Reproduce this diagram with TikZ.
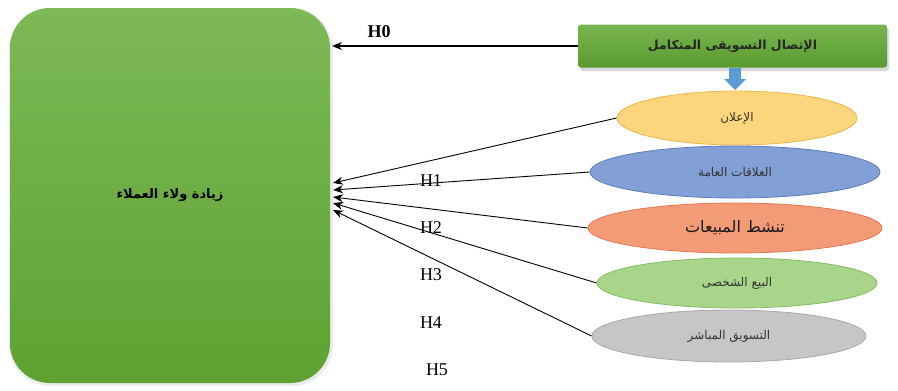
\documentclass[tikz,border=0pt]{standalone}
\usepackage{fontspec}
\setmainfont{Liberation Serif}
\newfontfamily\arabicfont[Script=Arabic]{DejaVu Sans}
\TeXXeTstate=1
\usetikzlibrary{shapes.geometric,arrows.meta,calc}

\definecolor{boxtop}{HTML}{7DB957}
\definecolor{boxbot}{HTML}{5EA232}
\definecolor{hdtop}{HTML}{79B54F}
\definecolor{hdbot}{HTML}{5A9B30}
\definecolor{adfill}{HTML}{FDD57C}
\definecolor{adline}{HTML}{E8B84A}
\definecolor{prfill}{HTML}{829FD6}
\definecolor{prline}{HTML}{5C7EC0}
\definecolor{spfill}{HTML}{F39A77}
\definecolor{spline}{HTML}{E07A52}
\definecolor{psfill}{HTML}{A8D58A}
\definecolor{psline}{HTML}{86BC65}
\definecolor{dmfill}{HTML}{C6C6C6}
\definecolor{dmline}{HTML}{A8A8A8}
\definecolor{arrblue}{HTML}{5B9BD5}

\tikzset{
  elem/.style={ellipse, draw=#1line, fill=#1fill, line width=0.8pt, inner sep=0pt},
  elemtext/.style={font=\arabicfont\fontsize{12}{12}\selectfont, text=black!80},
  link/.style={draw=black, line width=0.9pt, -{Stealth[length=10pt,width=8pt]}},
  hlabel/.style={font=\fontsize{18}{18}\selectfont},
}

\begin{document}
\begin{tikzpicture}[x=1pt,y=-1pt]
\useasboundingbox (0,0) rectangle (898,391);

% soft shadow, then the main outcome box
\fill[black!8, rounded corners=41pt] (9,8) rectangle (333,386);
\node[draw=none, rounded corners=40pt, top color=boxtop, bottom color=boxbot,
      minimum width=320pt, minimum height=375pt, inner sep=0pt] (loyal) at (170,195.5)
      {\arabicfont\bfseries\fontsize{13}{13}\selectfont\beginR زيادة ولاء العملاء\endR};

% header box with its shadow
\fill[black!15, rounded corners=3pt] (580,28) rectangle (889,71);
\node[top color=hdtop, bottom color=hdbot, rounded corners=3pt, minimum width=309pt,
      minimum height=43pt, inner sep=0pt] (imc) at (732.5,46)
      {\arabicfont\bfseries\fontsize{12.5}{12.5}\selectfont\color{black!85}\beginR الإتصال التسويقى المتكامل\endR};

% blue block arrow under the header
\fill[arrblue] (729,68) -- (741,68) -- (741,79) -- (746,79) -- (735,90) -- (724,79) -- (729,79) -- cycle;

% the five elements
\node[elem=ad, elemtext, minimum width=240pt, minimum height=54pt] (ad) at (737,118)
      {\beginR الإعلان\endR};
\node[elem=pr, elemtext, minimum width=290pt, minimum height=52pt] (pr) at (735,172)
      {\beginR العلاقات العامة\endR};
\node[elem=sp, minimum width=294pt, minimum height=50pt,
      font=\arabicfont\fontsize{16}{16}\selectfont, text=black!90] (sp) at (735,228)
      {\beginR تنشط المبيعات\endR};
\node[elem=ps, elemtext, minimum width=280pt, minimum height=50pt] (ps) at (737,283)
      {\beginR البيع الشخصى\endR};
\node[elem=dm, elemtext, minimum width=274pt, minimum height=52pt] (dm) at (729,336)
      {\beginR التسويق المباشر\endR};

% arrow tips on the right side of the outcome box
\coordinate (t0) at (332,46);
\coordinate (t1) at (333,183);
\coordinate (t2) at (333,190);
\coordinate (t3) at (333,197);
\coordinate (t4) at (333,203);
\coordinate (t5) at (333,210);

\draw[link, line width=1.5pt] (imc.west) -- (t0);
\draw[link] (ad.west) -- (t1);
\draw[link] (pr.west) -- (t2);
\draw[link] (sp.west) -- (t3);
\draw[link] (ps.west) -- (t4);
\draw[link] (dm.west) -- (t5);

% hypothesis labels
\node[font=\bfseries\fontsize{18}{18}\selectfont] (h0) at (379,32) {H0};
\node[hlabel] (h1) at (431,181) {H1};
\node[hlabel] (h2) at (431,228) {H2};
\node[hlabel] (h3) at (431,275) {H3};
\node[hlabel] (h4) at (431,323) {H4};
\node[hlabel] (h5) at (437,370) {H5};
\end{tikzpicture}
\end{document}
